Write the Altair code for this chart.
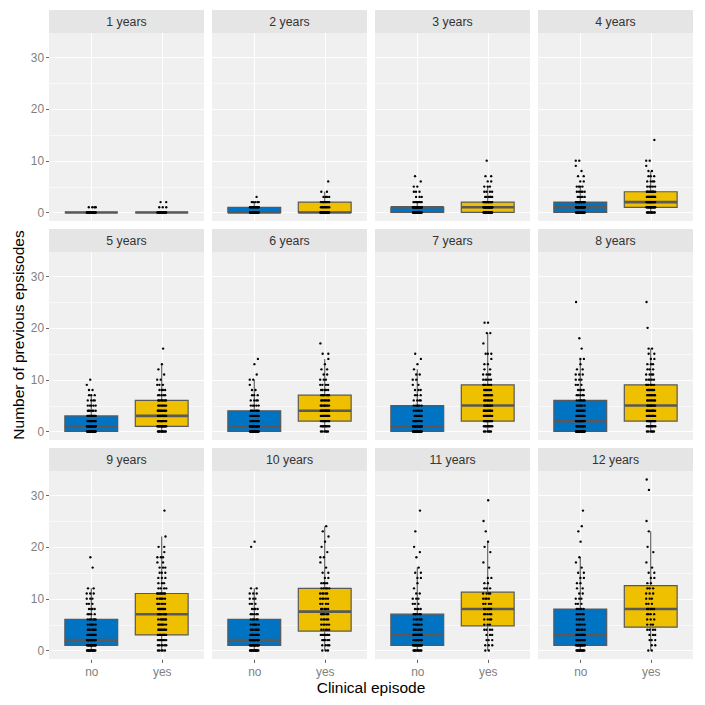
import altair as alt
import pandas as pd

# ---- data: counts of children per number of previous episodes (index = episodes) ----
panels = [f"{i} years" for i in range(1, 13)]

no_1y = [36, 4]
yes_1y = [26, 3, 2]
no_2y = [30, 14, 5, 1]
yes_2y = [26, 8, 9, 4, 2, 0, 1]
no_3y = [30, 32, 8, 3, 3, 2, 1, 1]
yes_3y = [22, 22, 18, 6, 4, 3, 2, 2, 0, 0, 1]
no_4y = [25, 22, 22, 5, 5, 4, 2, 2, 1, 1, 2]
yes_4y = [10, 18, 20, 14, 10, 5, 4, 3, 2, 1, 2, 0, 0, 0, 1]
no_5y = [25, 22, 11, 10, 6, 5, 4, 3, 2, 1, 1]
yes_5y = [10, 15, 12, 12, 9, 8, 8, 5, 4, 3, 2, 1, 1, 1, 0, 0, 1]
no_6y = [25, 22, 10, 8, 7, 5, 4, 3, 2, 1, 2, 1, 0, 1, 1]
yes_6y = [6, 8, 11, 12, 13, 10, 8, 7, 5, 4, 3, 2, 2, 1, 1, 2, 0, 1]
no_7y = [28, 26, 9, 7, 5, 6, 4, 3, 3, 2, 2, 2, 1, 1, 1, 1]
yes_7y = [6, 8, 14, 10, 10, 9, 8, 8, 7, 6, 5, 4, 2, 2, 1, 3, 0, 1, 0, 2, 0, 2]
no_8y = [31, 12, 17, 10, 8, 7, 7, 5, 4, 3, 3, 3, 2, 1, 2, 0, 1, 0, 1, 0, 0, 0, 0, 0, 0, 1]
yes_8y = [6, 8, 14, 10, 10, 9, 8, 8, 7, 6, 5, 4, 3, 3, 2, 2, 2, 0, 0, 0, 1, 0, 0, 0, 0, 1]
no_9y = [15, 18, 20, 9, 7, 6, 6, 4, 4, 3, 3, 3, 2, 0, 0, 0, 1, 0, 1]
yes_9y = [5, 6, 8, 10, 8, 7, 7, 7, 7, 6, 6, 8, 4, 3, 3, 3, 3, 2, 3, 1, 2, 0, 1, 0, 0, 0, 0, 1]
no_10y = [14, 19, 20, 10, 7, 6, 5, 5, 4, 3, 3, 3, 2, 0, 0, 0, 0, 0, 0, 0, 1, 1]
yes_10y = [3, 4, 6, 8, 5, 5, 5, 6, 5, 4, 5, 5, 5, 4, 2, 2, 1, 1, 2, 1, 1, 1, 1, 1, 1]
no_11y = [10, 17, 11, 14, 7, 6, 6, 6, 4, 3, 3, 2, 1, 1, 2, 2, 1, 0, 1, 1, 1, 0, 0, 1, 0, 0, 0, 1]
yes_11y = [2, 3, 3, 3, 4, 3, 4, 5, 6, 4, 4, 4, 3, 2, 2, 0, 1, 1, 0, 1, 1, 1, 0, 1, 0, 1, 0, 0, 0, 1]
no_12y = [12, 16, 12, 12, 6, 5, 5, 5, 5, 3, 3, 2, 2, 2, 2, 2, 1, 1, 1, 0, 0, 1, 0, 1, 1, 0, 0, 1]
yes_12y = [2, 2, 3, 3, 4, 3, 3, 4, 5, 3, 3, 3, 3, 2, 2, 2, 1, 1, 0, 1, 1, 0, 0, 1, 0, 1, 0, 0, 0, 0, 0, 1, 0, 1]

no_counts = [no_1y, no_2y, no_3y, no_4y, no_5y, no_6y, no_7y, no_8y, no_9y, no_10y, no_11y, no_12y]
yes_counts = [yes_1y, yes_2y, yes_3y, yes_4y, yes_5y, yes_6y, yes_7y, yes_8y, yes_9y, yes_10y, yes_11y, yes_12y]

episodes = ["no", "yes"]
colors = ["#0073C2", "#EFC000"]

NCOL = 4
rows = []
for i, (p, nc, yc) in enumerate(zip(panels, no_counts, yes_counts)):
    for ep, counts in (("no", nc), ("yes", yc)):
        for v, c in enumerate(counts):
            rows += [{"panel": p, "r": i // NCOL, "c": i % NCOL, "ep": ep, "v": v}] * c
df = pd.DataFrame(rows)

# ---- layout constants ----
W = 155
STRIP = 23
PANEL_H = 188
H = STRIP + PANEL_H
YMIN, YMAX = -1.65, 34.65
YTOP = YMAX + STRIP * (YMAX - YMIN) / PANEL_H
GRAY = "#595959"
FONT = "Liberation Sans"

x_scale = alt.Scale(domain=[0.4, 2.6], nice=False, zero=False)
y_scale = alt.Scale(domain=[YMIN, YTOP], nice=False, zero=False)

x_axis = alt.Axis(
    values=[1, 2], labelExpr="datum.value == 1 ? 'no' : 'yes'",
    grid=True, gridColor="white", gridWidth=1.1, domain=False,
    tickColor="#666666", tickSize=3.5, labelColor="#7F7F7F",
    labelFontSize=11.9, labelFont=FONT, labelPadding=4, title=None,
    minExtent=0,
)
y_axis = alt.Axis(
    values=[0, 5, 10, 15, 20, 25, 30],
    labelExpr="datum.value % 10 == 0 ? datum.label : ''",
    grid=True, gridColor="white",
    gridWidth={"condition": {"test": "datum.value % 10 != 0", "value": 0.6}, "value": 1.1},
    tickOpacity={"condition": {"test": "datum.value % 10 != 0", "value": 0}, "value": 1},
    domain=False, tickColor="#666666", tickSize=3.5, labelColor="#7F7F7F",
    labelFontSize=11.9, labelFont=FONT, labelPadding=2, title=None,
    minExtent=0,
)


def X(field):
    return alt.X(f"{field}:Q", scale=x_scale, axis=x_axis, title=None)


def Y(field):
    return alt.Y(f"{field}:Q", scale=y_scale, axis=y_axis, title=None)


base = alt.Chart()

stats = (
    base.transform_joinaggregate(q1="q1(v)", q3="q3(v)", med="median(v)", groupby=["ep"])
    .transform_calculate(iqr="datum.q3 - datum.q1")
    .transform_filter("datum.v >= datum.q1 - 1.5 * datum.iqr && datum.v <= datum.q3 + 1.5 * datum.iqr")
    .transform_aggregate(wlo="min(v)", whi="max(v)", q1="min(q1)", q3="min(q3)", med="min(med)", groupby=["ep"])
    .transform_calculate(xc="datum.ep == 'no' ? 1 : 2")
    .transform_calculate(xl="datum.xc - 0.375", xr="datum.xc + 0.375")
)

whisk_hi = stats.mark_rule(color=GRAY, strokeWidth=1.1).encode(x=X("xc"), y=Y("q3"), y2="whi")
whisk_lo = stats.mark_rule(color=GRAY, strokeWidth=1.1).encode(x=X("xc"), y=Y("wlo"), y2="q1")
box = stats.mark_rect(stroke=GRAY, strokeWidth=1.2).encode(
    x=X("xl"), x2="xr", y=Y("q1"), y2="q3",
    fill=alt.Fill("ep:N", scale=alt.Scale(domain=episodes, range=colors), legend=None),
)
median = stats.mark_rule(color=GRAY, strokeWidth=2.6).encode(x=X("xl"), x2="xr", y=Y("med"))

points = (
    base.transform_window(rk="row_number()", groupby=["ep", "v"])
    .transform_calculate(
        xj="(datum.ep == 'no' ? 1 : 2) + (((datum.rk * 0.618034 + datum.v * 0.377) % 1) - 0.5) * 0.13"
    )
    .mark_circle(size=5.5, color="black", opacity=1)
    .encode(x=X("xj"), y=Y("v"))
)

strip_data = base.transform_aggregate(n="count()", groupby=["panel"])
strip_bg = strip_data.mark_rect(fill="#E5E5E5").encode(
    x=alt.value(0), x2=alt.value(W), y=alt.value(0), y2=alt.value(STRIP)
)
strip_txt = strip_data.mark_text(font=FONT, fontSize=12.3, color="#333333", baseline="middle").encode(
    text="panel:N", x=alt.value(W / 2), y=alt.value(STRIP / 2 + 0.5)
)

layered = alt.layer(whisk_hi, whisk_lo, box, median, points, strip_bg, strip_txt).properties(width=W, height=H)

chart = (
    layered.facet(
        row=alt.Row(
            "r:O",
            header=alt.Header(labels=False, title="Number of previous epsisodes", titleOrient="left",
                              titleFont=FONT, titleFontSize=15.5, titleFontWeight="normal",
                              titleColor="black", titlePadding=-7),
        ),
        column=alt.Column(
            "c:O",
            header=alt.Header(labels=False, title="Clinical episode", titleOrient="bottom",
                              titleFont=FONT, titleFontSize=15.5, titleFontWeight="normal",
                              titleColor="black", titlePadding=-7),
        ),
        data=df, spacing={"row": 8, "column": 8},
    )
    .properties(padding={"left": 3, "top": 2, "right": 0, "bottom": 0})
    .configure_view(fill="#F0F0F0", stroke=None)
)

chart.save("out.html", embed_options={"renderer": "svg", "actions": False})
